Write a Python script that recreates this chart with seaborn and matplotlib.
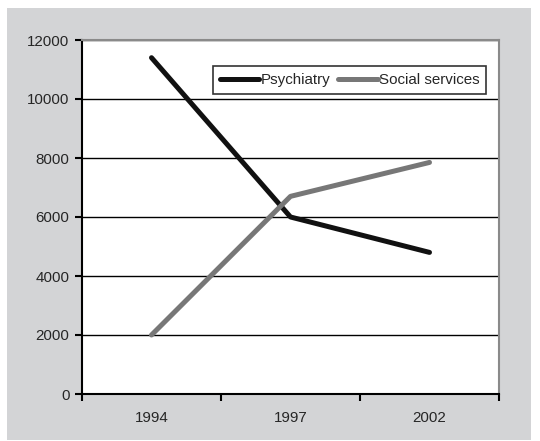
import pandas as pd
import numpy as np
import matplotlib.pyplot as plt
import matplotlib.patches as mpatches
import seaborn as sns

years = ["1994", "1997", "2002"]
psychiatry = [11400, 6000, 4800]
social = [2000, 6700, 7850]

df = pd.DataFrame({
    "year": years * 2,
    "pos": [0, 1, 2] * 2,
    "value": psychiatry + social,
    "series": ["Psychiatry"] * 3 + ["Social services"] * 3,
})

sns.set_style("white")
plt.rcParams["font.family"] = ["Liberation Sans", "DejaVu Sans"]

fig = plt.figure(figsize=(5.4, 4.41), dpi=100)
fig.patch.set_facecolor("white")
bg = mpatches.Rectangle((7 / 540, 1 / 441), 524 / 540, 432 / 441,
                        transform=fig.transFigure, facecolor="#d3d4d6",
                        edgecolor="none", zorder=-10)
fig.patches.append(bg)

ax = fig.add_axes([82 / 540, 1 - 394 / 441, 417 / 540, 354 / 441])
ax.set_facecolor("white")

sns.lineplot(data=df, x="pos", y="value", hue="series",
             palette={"Psychiatry": "#111111", "Social services": "#777777"},
             linewidth=3.6, ax=ax, legend=True)

fs = 10.9
ax.set_xlim(-0.5, 2.5)
ax.set_ylim(0, 12000)
ax.set_yticks(np.arange(0, 12001, 2000))
ax.yaxis.grid(True, color="black", linewidth=1)
ax.xaxis.grid(False)
ax.set_xticks([-0.5, 0.5, 1.5, 2.5])
ax.set_xticklabels([])
ax.set_xticks([0, 1, 2], minor=True)
ax.set_xticklabels(years, minor=True)
ax.tick_params(axis="x", which="minor", bottom=False, length=0, pad=12, labelsize=fs)
ax.tick_params(axis="x", which="major", bottom=True, length=5, width=1.5, direction="out", color="black")
ax.tick_params(axis="y", left=True, length=5, width=1.5, direction="out", color="black", labelsize=fs, pad=4)
ax.set_xlabel("")
ax.set_ylabel("")

for side in ["left", "bottom"]:
    ax.spines[side].set_color("black")
    ax.spines[side].set_linewidth(1.5)
for side in ["right", "top"]:
    ax.spines[side].set_color("#8a8a8a")
    ax.spines[side].set_linewidth(1.5)

leg = ax.legend(ncol=2, loc="upper right", bbox_to_anchor=(0.97, 0.926),
                frameon=True, fancybox=False, fontsize=fs, handlelength=2.6,
                handletextpad=0.1, columnspacing=0.5, borderpad=0.45,
                borderaxespad=0)
leg.get_frame().set_edgecolor("black")
leg.get_frame().set_linewidth(1.2)

fig.savefig("out.png", dpi=100)
